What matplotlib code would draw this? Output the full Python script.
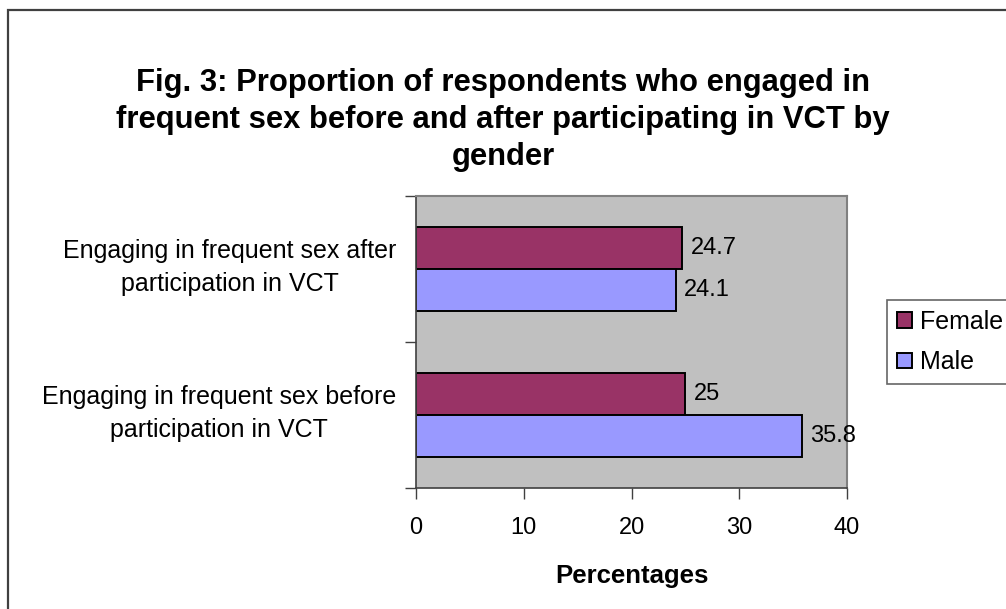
import matplotlib.pyplot as plt
import matplotlib.patches as mpatches
import numpy as np

plt.rcParams['font.family'] = ['Liberation Sans', 'DejaVu Sans']

categories = ['Engaging in frequent sex before\nparticipation in VCT',
              'Engaging in frequent sex after\nparticipation in VCT']
female = [25, 24.7]
male = [35.8, 24.1]
xticks = [0, 10, 20, 30, 40]


def main():
    W, H = 1006, 609
    fig = plt.figure(figsize=(W / 100, H / 100), dpi=100)
    ax = fig.add_axes([416 / W, 1 - 488 / H, (847 - 416) / W, (488 - 196) / H])

    # outer chart border (right and bottom are cut off in the reference)
    fig.patches.append(mpatches.Rectangle((8 / W, -0.1), 2, 1 - 10 / H + 0.1,
                                          transform=fig.transFigure, fill=False,
                                          edgecolor='#404040', linewidth=1.6))

    ax.set_facecolor('#C0C0C0')
    y = np.arange(len(categories))
    h = 0.2877
    bf = ax.barh(y + h / 2, female, height=h, color='#993366', edgecolor='black',
                 linewidth=1.4, label='Female')
    bm = ax.barh(y - h / 2, male, height=h, color='#9999FF', edgecolor='black',
                 linewidth=1.4, label='Male')
    for bars in (bf, bm):
        ax.bar_label(bars, labels=[f'{v:g}' for v in bars.datavalues],
                     padding=6, fontsize=17)

    ax.set_xlim(0, 40)
    ax.set_ylim(-0.5, len(categories) - 0.5)
    ax.set_xticks(xticks)
    ax.tick_params(axis='x', labelsize=17, length=8, width=1, color='#404040',
                   direction='out', pad=13)
    ax.set_yticks(np.arange(-0.5, len(categories), 1.0))
    ax.set_yticklabels([])
    ax.tick_params(axis='y', which='major', length=8, width=1, color='#404040')

    # category labels
    for yi, cat in zip(y, categories):
        ax.annotate(cat, xy=(0, yi), xycoords=('axes fraction', 'data'),
                    xytext=(-14, 1), textcoords='offset points',
                    ha='right', va='center', multialignment='center',
                    fontsize=18, linespacing=1.5)

    for s in ('top', 'right'):
        ax.spines[s].set_color('#808080')
        ax.spines[s].set_linewidth(1.5)
    for s in ('left', 'bottom'):
        ax.spines[s].set_color('#404040')
        ax.spines[s].set_linewidth(1.2)

    ax.set_xlabel('Percentages', fontsize=18.5, fontweight='bold', labelpad=18)

    fig.text(0.5, 1 - 120 / H,
             'Fig. 3: Proportion of respondents who engaged in\n'
             'frequent sex before and after participating in VCT by\n'
             'gender',
             ha='center', va='center', fontsize=22.3, fontweight='bold',
             linespacing=1.32)

    leg = fig.legend(handles=[bf, bm], loc='upper left',
                     bbox_to_anchor=(887 / W, 1 - 300 / H), fontsize=18,
                     frameon=True, fancybox=False, handlelength=0.6,
                     handleheight=0.6, handletextpad=0.3, borderpad=0.4,
                     labelspacing=0.65, borderaxespad=0)
    leg.get_frame().set_edgecolor('#404040')
    leg.get_frame().set_linewidth(1.2)

    fig.savefig('out.png', dpi=100)


if __name__ == '__main__':
    main()
